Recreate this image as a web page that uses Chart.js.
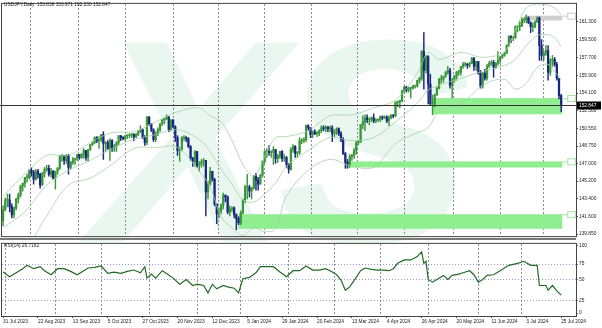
<!DOCTYPE html>
<html lang="en">
<head>
    <meta charset="UTF-8">
    <title>USDJPY Daily</title>
    <script src="https://cdn.jsdelivr.net/npm/chart.js"></script>
    <style>
        body { margin: 0; background: #fff; }
        .wrap { position: relative; width: 602px; height: 328px; overflow: hidden; font-family: "Liberation Sans", Arial, sans-serif; }
        .logo { position: absolute; left: 92px; top: -4px; font: italic bold 290px/290px "Liberation Sans", Arial, sans-serif; color: #eaf7f1; letter-spacing: -8px; }
        .panel { position: absolute; left: 0; width: 602px; }
        #pricePanel { top: 0; height: 240px; }
        #rsiPanel { top: 240px; height: 88px; }
        .sep { position: absolute; left: 0; top: 238px; width: 576px; height: 2px; background: #7a7a7a; }
        .lbl { position: absolute; left: 4px; font-size: 4.8px; color: #222; white-space: pre; }
    </style>
</head>
<body>
<div class="wrap">
    <div class="logo">XS</div>
    <div class="panel" id="pricePanel"><canvas id="priceChart"></canvas></div>
    <div class="panel" id="rsiPanel"><canvas id="rsiChart"></canvas></div>
    <div class="sep"></div>
    <div class="lbl" style="top:2px">USDJPY,Daily  153.838 153.971 152.230 152.847</div>
    <div class="lbl" style="top:243px">RSI(14) 26.7192</div>
</div>

<script>
    // daily bars, 31 Jul 2023 .. 25 Jul 2024
    const firstOpen = 141.2;
    const closes = [142.3,143.3,143.3,142.6,141.8,142.5,143.4,143.8,144.7,145.0,
        145.6,145.6,146.3,146.1,145.4,146.2,145.9,144.8,146.0,146.4,
        146.5,145.9,146.2,145.5,146.2,146.5,147.7,147.7,147.3,147.8,
        146.6,147.1,147.4,147.5,147.9,147.6,147.9,148.3,147.6,148.4,
        148.9,149.1,149.6,149.3,149.4,149.9,149.0,149.1,148.5,149.3,
        148.5,148.7,149.1,149.8,149.6,149.5,149.8,149.8,149.9,149.9,
        149.7,149.9,150.2,150.4,149.6,149.1,151.7,151.0,150.4,149.4,
        150.0,150.4,151.0,151.4,151.5,151.7,150.4,151.4,150.7,149.6,
        148.3,148.4,149.6,149.6,149.5,148.7,147.5,147.2,148.2,146.8,
        146.9,147.2,147.3,144.1,144.9,146.2,145.4,142.9,141.9,142.2,
        142.8,143.8,143.6,142.1,142.4,142.5,141.8,141.4,141.0,142.0,
        143.3,144.6,144.6,144.2,144.5,145.7,145.3,144.9,145.8,147.2,
        148.2,148.2,148.1,148.1,148.4,147.5,147.7,148.2,147.5,147.6,
        146.9,146.4,148.4,148.7,148.0,148.1,149.3,149.3,149.4,150.8,
        150.6,149.9,150.2,150.0,150.0,150.3,150.6,150.5,150.7,150.5,
        150.6,150.0,150.1,150.5,150.0,149.4,148.0,147.1,146.9,147.7,
        147.8,148.3,149.1,149.2,150.9,151.2,151.6,151.4,151.4,151.6,
        151.3,151.4,151.4,151.7,151.6,151.7,151.3,151.6,151.9,151.8,
        153.2,153.2,153.3,154.3,154.7,154.4,154.6,154.6,154.8,154.8,
        155.4,155.6,158.3,156.4,157.8,155.0,153.0,153.0,153.9,154.6,
        155.5,155.5,155.8,156.2,156.4,154.9,155.4,155.7,156.2,156.2,
        156.8,157.0,157.0,156.9,157.1,157.6,156.8,157.3,156.1,154.8,
        156.1,155.6,156.8,157.1,157.2,156.7,157.1,157.4,157.7,157.9,
        158.1,158.9,159.8,159.7,159.7,160.8,160.8,160.9,161.5,161.5,
        161.7,161.2,160.8,160.8,161.3,161.7,158.9,157.9,158.1,158.4,
        156.2,157.4,157.5,157.0,155.6,153.838,152.847];
    const highs = [142.7,143.5,143.9,143.9,142.9,142.6,143.5,144.0,144.8,145.0,
        145.6,145.9,146.4,146.6,146.3,146.4,146.4,146.0,146.1,146.6,
        146.8,146.8,146.5,146.3,146.2,146.6,147.8,147.9,147.8,147.9,
        147.9,147.2,147.6,147.5,147.9,147.9,148.0,148.5,148.3,148.4,
        148.9,149.2,149.7,149.7,149.7,149.9,150.2,149.2,149.3,149.5,
        149.4,148.9,149.2,149.8,149.8,149.7,149.8,149.9,150.0,150.0,
        150.0,150.0,150.3,150.8,150.5,149.8,151.7,151.7,151.0,150.5,
        150.2,150.6,151.0,151.4,151.6,151.9,151.7,151.4,151.4,150.8,
        149.8,148.6,149.7,149.8,149.7,149.6,148.8,147.6,148.3,148.2,
        147.2,147.4,147.5,147.3,145.2,146.6,146.2,145.5,142.9,142.5,
        142.9,144.0,143.8,143.7,142.7,142.6,142.6,141.9,141.6,142.2,
        143.4,144.8,145.9,144.8,144.6,145.8,146.0,145.6,145.9,147.3,
        148.3,148.5,148.8,148.3,148.7,148.4,147.9,148.2,148.3,147.9,
        147.7,147.0,148.6,148.9,148.8,148.2,149.6,149.5,149.6,150.9,
        150.9,150.6,150.3,150.4,150.2,150.4,150.8,150.8,150.8,150.7,
        150.8,150.8,150.4,150.6,150.6,150.2,149.6,148.1,147.4,147.9,
        147.9,148.5,149.2,149.3,150.9,151.8,151.9,151.9,151.6,151.7,
        152.0,151.5,151.4,151.8,151.8,151.8,151.8,151.8,151.9,151.9,
        153.2,153.3,153.4,154.4,154.8,154.8,154.7,154.7,154.9,154.9,
        155.4,155.7,158.4,160.2,157.9,157.9,156.0,153.9,154.0,154.7,
        155.6,155.9,155.8,156.3,156.8,156.6,155.6,155.9,156.3,156.4,
        156.8,157.2,157.2,157.1,157.2,157.7,157.7,157.3,157.3,156.4,
        156.2,156.5,157.0,157.3,157.4,157.4,157.2,158.3,157.8,158.0,
        158.2,159.0,159.9,159.9,159.8,160.9,160.9,161.3,161.7,161.7,
        162.0,161.8,161.3,161.2,161.4,161.8,161.8,159.5,158.4,158.9,
        158.9,157.6,157.9,157.7,157.2,155.6,153.971];
    const lows = [140.7,142.2,142.6,142.1,141.5,141.5,142.3,143.0,143.6,144.2,
        144.6,145.1,145.4,145.7,144.9,145.3,145.5,144.5,144.8,145.6,
        146.2,145.7,145.6,145.4,144.4,145.9,146.4,147.2,146.9,147.0,
        145.9,146.4,146.9,146.9,147.3,147.4,147.5,147.5,147.3,147.2,
        148.3,148.8,149.0,149.1,148.5,149.2,147.4,148.2,148.4,147.3,
        148.2,148.2,148.2,148.9,149.3,149.4,149.3,149.5,149.6,149.6,
        149.3,149.6,149.8,150.1,149.5,148.8,148.9,150.8,150.2,149.2,
        149.2,149.8,150.2,150.8,151.0,151.4,150.2,150.3,150.6,149.2,
        147.8,147.2,148.3,149.3,149.2,148.6,147.3,146.7,146.7,146.6,
        146.2,146.6,146.7,141.7,143.4,144.8,145.2,142.7,140.9,141.5,
        141.9,142.4,143.1,141.9,141.7,142.1,141.5,140.3,140.8,140.8,
        141.9,143.0,143.4,143.6,143.4,144.4,144.3,144.3,144.9,145.6,
        147.0,147.6,147.8,147.6,146.9,147.0,147.1,147.5,147.2,147.2,
        146.6,146.0,146.3,148.1,147.6,147.6,147.9,149.0,149.1,149.2,
        150.3,149.6,149.6,149.9,149.7,149.8,150.1,150.3,150.2,150.2,
        150.2,149.2,149.7,149.9,149.8,149.2,147.9,146.5,146.5,146.6,
        147.3,147.5,147.9,148.9,149.1,150.5,150.3,151.1,150.9,151.2,
        151.1,151.1,151.2,151.2,151.4,151.5,151.1,150.8,151.5,151.6,
        151.7,152.7,152.6,153.2,154.1,154.2,154.2,153.6,154.5,154.6,
        154.7,155.1,155.4,154.5,156.1,153.0,152.9,151.9,152.7,153.9,
        154.5,155.1,155.2,155.7,156.0,154.6,153.6,155.2,155.4,155.9,
        155.9,156.6,156.8,156.6,156.7,157.1,156.4,156.4,156.0,154.6,
        154.6,155.4,155.4,156.7,156.9,155.7,156.6,156.9,157.1,157.6,
        157.8,158.1,158.8,159.2,159.4,159.6,160.3,160.4,160.8,161.2,
        161.2,161.1,160.2,160.3,160.7,161.2,157.4,157.4,157.4,157.9,
        155.4,155.9,156.8,156.8,155.4,153.5,152.23];

    // Bollinger bands (20, 2), read at sparse bars
    const bbIdx = [0,10,20,30,40,50,60,70,80,90,95,100,105,110,115,120,125,130,140,150,160,170,180,190,195,200,210,220,230,235,240,245,250,253,256];
    const bbUpper = [143.7,145.9,147.8,147.8,149.1,150.1,150.2,151.2,152.2,152.6,151.8,151.2,149.3,146.9,145.7,147.7,149.6,149.7,150.3,151.8,151.9,152.6,153.4,156.1,158.2,157.5,158.2,157.7,158.3,160.5,162.7,163.1,163.0,162.7,162.0];
    const bbMiddle = [140.5,142.1,144.8,146.3,147.3,148.5,149.4,149.9,150.4,149.4,148.2,146.4,144.9,143.3,143.1,143.9,145.0,146.7,148.3,149.6,149.3,149.6,151.2,153.1,154.4,154.9,155.6,156.3,156.9,157.5,158.9,159.9,160.0,159.7,158.8];
    const bbLower = [137.3,138.3,141.7,144.8,145.5,146.9,148.5,148.6,148.6,146.2,144.6,141.6,140.5,139.7,140.5,140.1,140.4,143.7,146.3,147.4,146.7,146.6,149.0,150.1,150.6,152.3,153.0,154.9,155.5,154.5,155.1,156.7,157.0,156.3,155.4];

    // RSI(14)
    const rsiIdx = [0,3,6,9,11,14,17,19,22,25,28,31,34,37,39,42,45,48,51,54,57,60,63,65,66,68,70,73,75,78,
        81,84,87,89,92,94,96,98,101,103,106,108,110,113,116,118,121,124,127,130,133,136,139,142,145,148,151,153,155,157,
        159,162,164,166,169,172,175,177,179,181,184,187,190,192,193,194,195,197,199,202,204,206,209,211,214,216,218,220,222,225,
        228,232,236,239,242,245,246,249,250,252,254,256];
    const rsiVal = [61,54,60,66,71,66,69,63,57,66,66,62,57,63,67,68,70,59,61,59,62,64,60,69,52,58,52,63,59,52,
        43,50,41,43,41,30,43,36,41,39,37,30,51,53,60,69,69,69,61,54,63,63,70,64,64,66,61,57,49,34,
        39,53,63,67,65,64,64,63,66,74,79,79,84,91,74,77,50,46,50,56,50,56,58,60,63,57,46,50,56,57,
        63,71,74,77,71,71,41,41,34,41,33,26.7];

    // axes
    const priceTicks = [161.3,159.5,157.7,155.9,154.1,152.3,150.55,148.75,147.0,145.2,143.4,141.6,139.85];
    const rsiTickPos = [100,72.9,50,18.6,0];
    const rsiTickText = ['100','75','50','25','0'];
    const dateLabels = ['31 Jul 2023','22 Aug 2023','13 Sep 2023','5 Oct 2023','27 Oct 2023','20 Nov 2023','12 Dec 2023','5 Jan 2024','29 Jan 2024',
        '20 Feb 2024','13 Mar 2024','4 Apr 2024','26 Apr 2024','20 May 2024','11 Jun 2024','3 Jul 2024','25 Jul 2024'];
    const dateLabelIdx = [0,16,32,48,64,80,96,112,128,144,160,176,192,208,224,240,256];
    const monthIdx = [1,24,45,67,89,109,131,152,173,195,218,238];

    // support / resistance boxes
    const zoneFrom = [239,197,157,108];
    const zoneTop = [161.92,153.59,147.2,141.86];
    const zoneBottom = [161.43,151.96,146.58,140.39];
    const zoneColor = ['#cfcfcf','#90ee90','#90ee90','#90ee90'];
    const zoneEnd = 256.5;

    const opens = closes.map((c, i) => i === 0 ? firstOpen : closes[i - 1]);
    const bull = closes.map((c, i) => c >= opens[i]);
    const upColor = '#3a973a', downColor = '#1b2680';
    const candleColors = bull.map(b => b ? upColor : downColor);

    Chart.defaults.font.family = '"Liberation Sans", Arial, sans-serif';
    Chart.defaults.font.size = 4.8;
    Chart.defaults.color = '#222';
    Chart.defaults.animation = false;

    const xMin = -0.5, xMax = 262.8;

    const framePlugin = {
        id: 'frame',
        afterDraw(chart) {
            const a = chart.chartArea, ctx = chart.ctx;
            ctx.save();
            ctx.strokeStyle = '#444';
            ctx.lineWidth = 1;
            ctx.strokeRect(a.left - 0.5, a.top - 0.5, a.right - a.left + 1, a.bottom - a.top + 1);
            ctx.restore();
        }
    };

    const zonePlugin = {
        id: 'zones',
        beforeDatasetsDraw(chart) {
            const xs = chart.scales.x, ys = chart.scales.y, ctx = chart.ctx;
            ctx.save();
            zoneFrom.forEach((f, k) => {
                const x1 = xs.getPixelForValue(f), x2 = xs.getPixelForValue(zoneEnd);
                const y1 = ys.getPixelForValue(zoneTop[k]), y2 = ys.getPixelForValue(zoneBottom[k]);
                ctx.fillStyle = zoneColor[k];
                ctx.fillRect(x1, y1, x2 - x1, y2 - y1);
            });
            ctx.restore();
        },
        afterDraw(chart) {
            const xs = chart.scales.x, ys = chart.scales.y, ctx = chart.ctx;
            ctx.save();
            ctx.lineWidth = 0.8;
            zoneFrom.forEach((f, k) => {
                const x2 = xs.getPixelForValue(zoneEnd);
                const y = ys.getPixelForValue(zoneTop[k]);
                ctx.strokeStyle = k === 0 ? '#bbbbbb' : '#8fdc8f';
                ctx.beginPath();
                ctx.moveTo(x2, y + 0.5);
                ctx.lineTo(x2 + 5, y + 0.5);
                ctx.stroke();
                ctx.strokeRect(x2 + 5.5, y - 2.5, 8, 6);
            });
            // last price line and tag
            const last = closes[closes.length - 1];
            const yp = Math.round(ys.getPixelForValue(last)) + 0.5;
            ctx.strokeStyle = '#333';
            ctx.lineWidth = 1;
            ctx.beginPath();
            ctx.moveTo(0, yp);
            ctx.lineTo(chart.chartArea.right, yp);
            ctx.stroke();
            ctx.fillStyle = '#000';
            ctx.fillRect(chart.chartArea.right + 1, yp - 4, 24, 8);
            ctx.fillStyle = '#fff';
            ctx.font = '4.8px "Liberation Sans", Arial, sans-serif';
            ctx.textBaseline = 'middle';
            ctx.fillText(last.toFixed(3), chart.chartArea.right + 3, yp);
            ctx.restore();
        }
    };

    const idx = closes.map((c, i) => i);

    new Chart(document.getElementById('priceChart'), {
        type: 'bar',
        data: {
            datasets: [
                {
                    type: 'line',
                    data: bbIdx.map((b, k) => ({ x: b, y: bbUpper[k] })),
                    borderColor: '#a3d3a3', borderWidth: 0.8, pointRadius: 0, tension: 0.35
                },
                {
                    type: 'line',
                    data: bbIdx.map((b, k) => ({ x: b, y: bbMiddle[k] })),
                    borderColor: '#a3d3a3', borderWidth: 0.8, pointRadius: 0, tension: 0.35
                },
                {
                    type: 'line',
                    data: bbIdx.map((b, k) => ({ x: b, y: bbLower[k] })),
                    borderColor: '#a3d3a3', borderWidth: 0.8, pointRadius: 0, tension: 0.35
                },
                {
                    // wicks
                    data: idx.map(i => ({ x: i, y: [lows[i], highs[i]] })),
                    backgroundColor: candleColors,
                    barThickness: 0.8, grouped: false
                },
                {
                    // bodies
                    data: idx.map(i => ({ x: i, y: [opens[i], closes[i]] })),
                    backgroundColor: candleColors,
                    barThickness: 1.6, minBarLength: 0.7, grouped: false
                }
            ]
        },
        options: {
            responsive: true,
            maintainAspectRatio: false,
            layout: { padding: { left: 2, top: 1, bottom: 2, right: 0 } },
            plugins: { legend: { display: false }, tooltip: { enabled: false } },
            scales: {
                x: {
                    type: 'linear', min: xMin, max: xMax, offset: false,
                    afterBuildTicks: s => { s.ticks = monthIdx.map(v => ({ value: v })); },
                    ticks: { display: false },
                    grid: { color: '#6a6a6a', lineWidth: 0.8, drawTicks: false },
                    border: { display: false, dash: [2, 2] }
                },
                y: {
                    position: 'right', min: 139.65, max: 163.11,
                    afterBuildTicks: s => { s.ticks = priceTicks.map(v => ({ value: v })); },
                    afterFit: s => { s.width = 26; },
                    ticks: { callback: v => v.toFixed(3), padding: 1, autoSkip: false, color: '#222' },
                    grid: { drawOnChartArea: false, tickLength: 2, color: '#555' },
                    border: { display: false }
                }
            }
        },
        plugins: [zonePlugin, framePlugin]
    });

    new Chart(document.getElementById('rsiChart'), {
        type: 'line',
        data: {
            datasets: [{
                data: rsiIdx.map((r, k) => ({ x: r, y: rsiVal[k] })),
                borderColor: '#226b26', borderWidth: 1.2, pointRadius: 0, tension: 0
            }]
        },
        options: {
            responsive: true,
            maintainAspectRatio: false,
            layout: { padding: { left: 2, top: 1, bottom: 0, right: 0 } },
            plugins: { legend: { display: false }, tooltip: { enabled: false } },
            scales: {
                x: {
                    type: 'linear', min: xMin, max: xMax, offset: false,
                    afterBuildTicks: s => { s.ticks = monthIdx.map(v => ({ value: v })); },
                    ticks: { display: false },
                    grid: { color: '#6a6a6a', lineWidth: 0.8, drawTicks: false },
                    border: { display: false, dash: [2, 2] }
                },
                xd: {
                    type: 'linear', position: 'bottom', min: xMin, max: xMax, offset: false,
                    afterBuildTicks: s => { s.ticks = dateLabelIdx.map(v => ({ value: v })); },
                    afterFit: s => { s.height = 12; },
                    ticks: { callback: (v, i) => dateLabels[i], align: 'start', padding: 1, autoSkip: false, maxRotation: 0, color: '#222' },
                    grid: { drawOnChartArea: false, tickLength: 2, color: '#555' },
                    border: { display: false }
                },
                y: {
                    position: 'right', min: -4.29, max: 102.86,
                    afterBuildTicks: s => { s.ticks = rsiTickPos.map(v => ({ value: v })); },
                    afterFit: s => { s.width = 26; },
                    ticks: { callback: (v, i) => rsiTickText[i], padding: 1, autoSkip: false, color: '#222' },
                    grid: {
                        color: c => (c.tick && (c.tick.value === 100 || c.tick.value === 0)) ? 'rgba(0,0,0,0)' : '#7c7cc0',
                        lineWidth: 0.8, tickLength: 2, tickColor: '#555', tickBorderDash: []
                    },
                    border: { display: false, dash: [1, 2] }
                }
            }
        },
        plugins: [framePlugin]
    });
</script>
</body>
</html>
